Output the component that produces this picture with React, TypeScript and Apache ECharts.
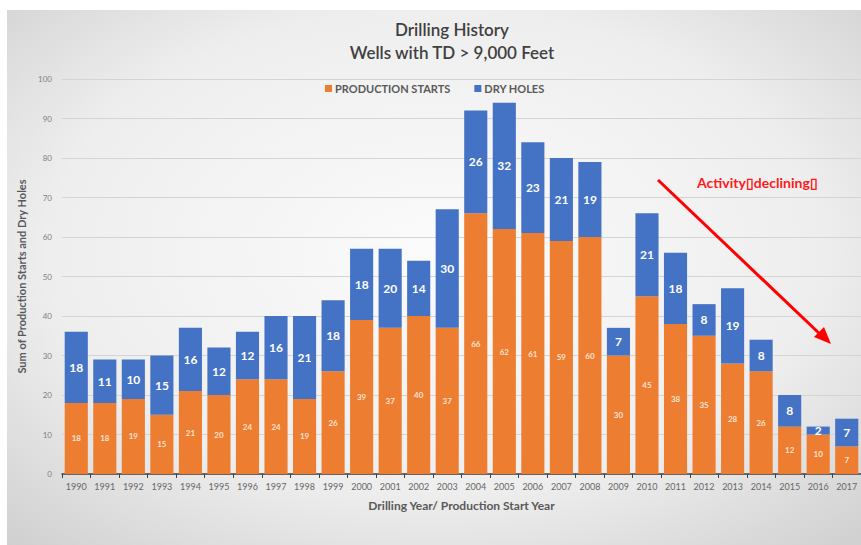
import React, { useEffect, useRef } from "react";
import * as echarts from "echarts";

const years = ["1990","1991","1992","1993","1994","1995","1996","1997","1998","1999","2000","2001","2002","2003","2004","2005","2006","2007","2008","2009","2010","2011","2012","2013","2014","2015","2016","2017"];
const productionStarts = [18,18,19,15,21,20,24,24,19,26,39,37,40,37,66,62,61,59,60,30,45,38,35,28,26,12,10,7];
const dryHoles = [18,11,10,15,16,12,12,16,21,18,18,20,14,30,26,32,23,21,19,7,21,18,8,19,8,8,2,7];
const yTicks = { min: 0, max: 100, interval: 10 };

const FONT = "Lato, 'Open Sans', sans-serif";

export default function App() {
  const ref = useRef<HTMLDivElement>(null);
  useEffect(() => {
    document.body.style.margin = "0";
    const chart = echarts.init(ref.current!, null, { renderer: "svg" });
    chart.setOption({
      animation: false,
      textStyle: { fontFamily: FONT },
      graphic: [
        {
          type: "rect",
          z: -10,
          silent: true,
          shape: { x: 7, y: 10, width: 854, height: 535 },
          style: {
            fill: new echarts.graphic.RadialGradient(0.5, 0.45, 0.75, [
              { offset: 0, color: "#fbfbfb" },
              { offset: 0.6, color: "#eeeeee" },
              { offset: 1, color: "#cfcfcf" },
            ]),
          },
        },
        {
          type: "line",
          z: 100,
          shape: { x1: 658, y1: 180, x2: 822, y2: 336 },
          style: { stroke: "#ff0000", lineWidth: 3 },
        },
        {
          type: "polygon",
          z: 100,
          shape: { points: [[831, 344], [814, 337], [824, 327]] },
          style: { fill: "#ff0000" },
        },
        {
          type: "text",
          z: 100,
          x: 697,
          y: 175,
          style: {
            text: "Activity▯declining▯",
            fill: "#ff1a1a",
            font: `bold 14px ${FONT}`,
          },
        },
      ],
      title: {
        text: "Drilling History\nWells with TD > 9,000 Feet",
        left: 447,
        top: 13,
        textAlign: "center",
        textStyle: { fontSize: 17, fontWeight: 600, color: "#404040", lineHeight: 23, fontFamily: FONT },
      },
      legend: {
        data: ["PRODUCTION STARTS", "DRY HOLES"],
        left: 320,
        top: 78,
        icon: "rect",
        itemWidth: 7,
        itemHeight: 7,
        itemGap: 24,
        textStyle: { fontSize: 11, fontWeight: "bold", color: "#595959", fontFamily: FONT, padding: [0, 0, 0, -2] },
      },
      grid: { left: 62, top: 79, width: 801, height: 395, containLabel: false },
      xAxis: {
        type: "category",
        data: years,
        name: "Drilling Year/ Production Start Year",
        nameLocation: "middle",
        nameGap: 25,
        nameTextStyle: { fontSize: 12, fontWeight: "bold", color: "#595959" },
        axisLine: { lineStyle: { color: "#404040", width: 1.5 } },
        axisTick: { show: true, length: 4, lineStyle: { color: "#404040" } },
        axisLabel: { fontSize: 9, color: "#666666", margin: 8, interval: 0 },
      },
      yAxis: {
        type: "value",
        min: yTicks.min,
        max: yTicks.max,
        interval: yTicks.interval,
        name: "Sum of Production Starts and Dry Holes",
        nameLocation: "middle",
        nameGap: 33,
        nameTextStyle: { fontSize: 11, fontWeight: "bold", color: "#595959" },
        axisLine: { show: false },
        axisTick: { show: false },
        axisLabel: { fontSize: 8, color: "#808080", margin: 10 },
        splitLine: { lineStyle: { color: "#d4d4d4", width: 1 } },
      },
      series: [
        {
          name: "PRODUCTION STARTS",
          type: "bar",
          stack: "total",
          data: productionStarts,
          barCategoryGap: "19%",
          itemStyle: { color: "#ED7D31" },
          label: { show: true, position: "inside", color: "#fbe3d3", fontSize: 8, fontWeight: "bold" },
        },
        {
          name: "DRY HOLES",
          type: "bar",
          stack: "total",
          data: dryHoles,
          itemStyle: { color: "#4472C4" },
          label: { show: true, position: "inside", color: "#ffffff", fontSize: 12, fontWeight: "bold" },
        },
      ],
    });
    return () => chart.dispose();
  }, []);
  return <div ref={ref} style={{ width: 861, height: 545 }} />;
}
